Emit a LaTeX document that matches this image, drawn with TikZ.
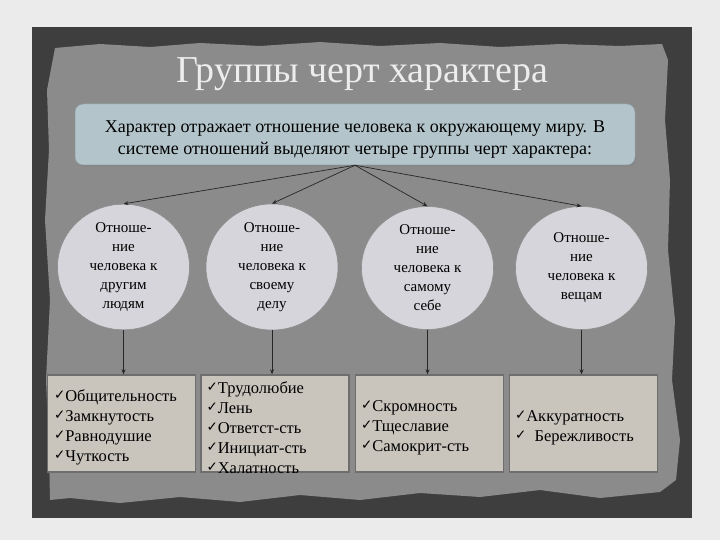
\documentclass[tikz,border=0pt]{standalone}
\usepackage{fontspec}
\setmainfont{Liberation Serif}
\newfontfamily\symfont{DejaVu Sans}
\usetikzlibrary{arrows.meta,shapes.geometric,shadows}
\definecolor{outerbg}{HTML}{EBEBEB}
\definecolor{framec}{HTML}{3E3E3E}
\definecolor{panelc}{HTML}{8B8B8B}
\definecolor{topfill}{HTML}{B3C5CB}
\definecolor{circfill}{HTML}{D5D5DB}
\definecolor{boxfill}{HTML}{C9C5BD}
\definecolor{boxedge}{HTML}{6E6E6E}
\definecolor{titlec}{HTML}{EDEDED}
\newcommand{\mychk}{\raisebox{2pt}{\symfont\fontsize{13.5}{13.5}\selectfont ✓}}
\begin{document}
\begin{tikzpicture}[x=1pt,y=-1pt,
  arr/.style={draw=black!85, line width=0.7pt, -{Stealth[length=5pt,width=4pt]}},
  circ/.style={ellipse, draw=black!45, line width=0.6pt, fill=circfill,
    minimum width=132pt, minimum height=123pt, inner sep=0pt, align=center,
    font=\fontsize{15}{19}\selectfont},
  grp/.style={rectangle, draw=boxedge, line width=1.4pt, fill=boxfill,
    minimum width=148pt, minimum height=97pt, inner sep=0pt},
  lst/.style={anchor=west, align=left, inner sep=0pt, font=\fontsize{16.5}{20}\selectfont},
  topbox/.style={rectangle, rounded corners=8pt, fill=topfill, draw=topfill!80!black,
    line width=0.5pt, minimum width=560pt, minimum height=61pt, align=center,
    font=\fontsize{18}{21.5}\selectfont,
    drop shadow={opacity=0.35, shadow xshift=1pt, shadow yshift=-2pt}}
]
\useasboundingbox (0,0) rectangle (720,540);
\fill[outerbg] (0,0) rectangle (720,540);
\fill[framec] (32,27) rectangle (692,518);
% torn inner panel
\fill[panelc] (55,48) -- (100,44) -- (150,47) -- (200,43) -- (260,46) -- (320,42) -- (380,46)
  -- (440,43) -- (500,47) -- (560,44) -- (620,46) -- (662,44)
  -- (668,60) -- (665,120) -- (670,180) -- (668,250) -- (675,320) -- (672,380) -- (680,440) -- (676,480)
  -- (660,492) -- (600,498) -- (540,490) -- (480,497) -- (420,493) -- (360,500) -- (300,495)
  -- (240,502) -- (180,497) -- (120,503) -- (70,498) -- (50,500)
  -- (49,450) -- (46,380) -- (50,300) -- (45,220) -- (49,150) -- (47,90) -- cycle;

\node[text=titlec, font=\fontsize{38}{42}\selectfont] (title) at (362,74) {Группы черт характера};

\node[topbox] (top) at (355,134.5) {\raisebox{-5pt}[\height][\depth]{\shortstack{Характер отражает отношение человека к окружающему миру. В\\[2pt]
  системе отношений выделяют четыре группы черт характера:}}};

\node[circ] (c1) at (123.5,267) {Отноше-\\ние\\человека к\\другим\\людям};
\node[circ] (c2) at (272,267) {Отноше-\\ние\\человека к\\своему\\делу};
\node[circ] (c3) at (427.5,268) {Отноше-\\ние\\человека к\\самому\\себе};
\node[circ] (c4) at (581.5,268) {Отноше-\\ние\\человека к\\вещам};

\node[grp] (b1) at (121.5,423.5) {};
\node[grp] (b2) at (275,423.5) {};
\node[grp] (b3) at (429.5,423.5) {};
\node[grp] (b4) at (583.5,423.5) {};

\node[lst] (t1) at ([xshift=7pt,yshift=-4pt]b1.west) {\mychk Общительность\\\mychk Замкнутость\\\mychk Равнодушие\\\mychk Чуткость};
\node[lst] (t2) at ([xshift=6pt,yshift=-4pt]b2.west) {\mychk Трудолюбие\\\mychk Лень\\\mychk Ответст-сть\\\mychk Инициат-сть\\\mychk Халатность};
\node[lst] (t3) at ([xshift=6pt,yshift=-4pt]b3.west) {\mychk Скромность\\\mychk Тщеславие\\\mychk Самокрит-сть};
\node[lst] (t4) at ([xshift=6pt,yshift=-4pt]b4.west) {\mychk Аккуратность\\\mychk\ \ Бережливость};

\draw[arr] (top.south) -- (c1.north);
\draw[arr] (top.south) -- (c2.north);
\draw[arr] (top.south) -- (c3.north);
\draw[arr] (top.south) -- (c4.north);

\draw[arr] (c1.south) -- (c1.south |- b1.north);
\draw[arr] (c2.south) -- (c2.south |- b2.north);
\draw[arr] (c3.south) -- (c3.south |- b3.north);
\draw[arr] (c4.south) -- (c4.south |- b4.north);
\end{tikzpicture}
\end{document}
